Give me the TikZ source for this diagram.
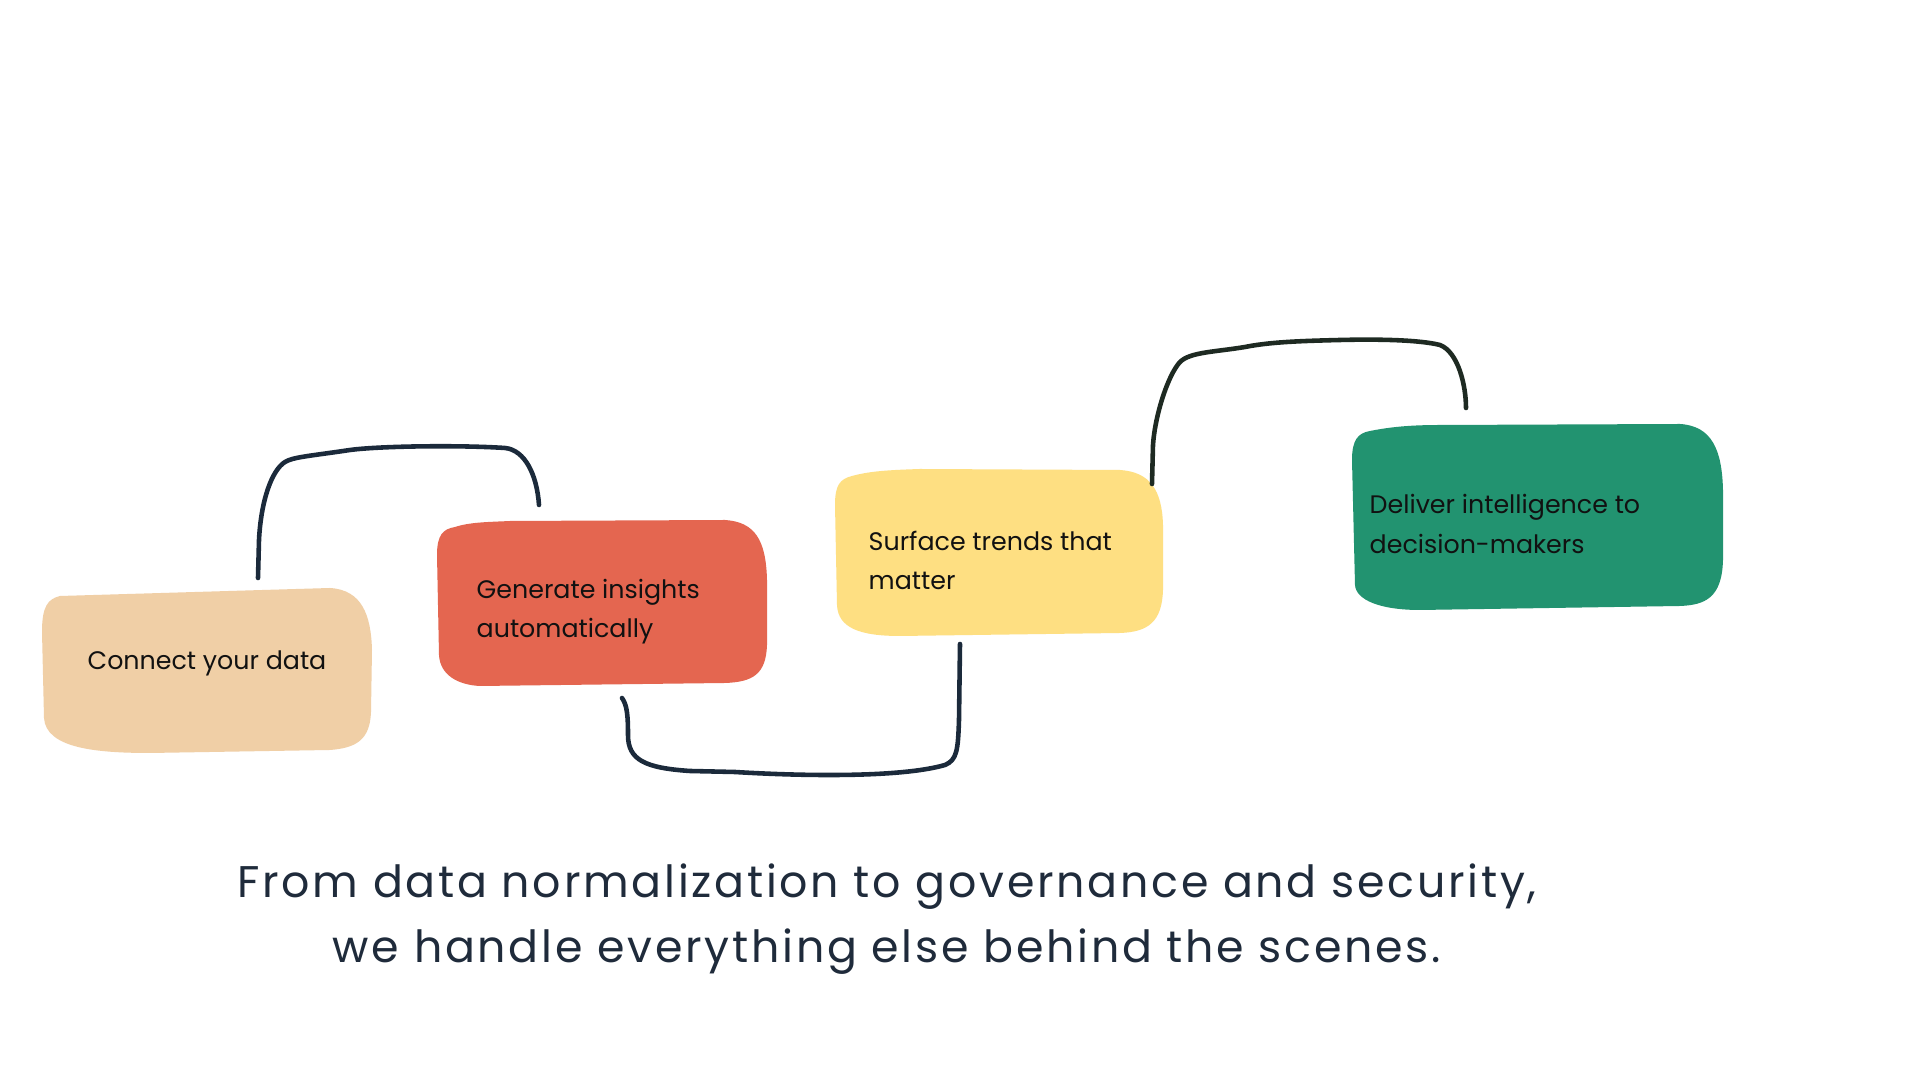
\documentclass[tikz,border=0pt]{standalone}
\usepackage{fontspec}
\setmainfont{Poppins}
\newfontfamily\capfont[LetterSpace=6.2]{Poppins}
\definecolor{tanc}{HTML}{F0CFA6}
\definecolor{redc}{HTML}{E46650}
\definecolor{yelc}{HTML}{FEDF82}
\definecolor{grnc}{HTML}{229370}
\definecolor{navy}{HTML}{1B2A3B}
\definecolor{dkgrn}{HTML}{1E2A22}
\definecolor{txt}{HTML}{111111}
\definecolor{captc}{HTML}{1F2B3B}
\begin{document}
\begin{tikzpicture}[x=0.01cm,y=-0.01cm,
  boxtext/.style={anchor=west,align=left,text=txt,font=\fontsize{7.2}{11.1}\selectfont,inner sep=0pt},
  link/.style={line width=1.3pt,line cap=round,line join=round,color=navy},
  caption/.style={align=center,text=captc,font=\capfont\fontsize{12.6}{18.5}\selectfont,inner sep=0pt}]
\useasboundingbox[fill=white] (0,0) rectangle (1920,1080);

% blobs
\fill[tanc] (60,596) -- (330,588) .. controls (362,590) and (371,615) .. (372,650)
  -- (371,712) .. controls (370,740) and (356,748) .. (330,750)
  -- (150,753) .. controls (95,753) and (46,748) .. (44,718)
  -- (42,632) .. controls (42,606) and (48,599) .. (60,596) -- cycle;
\fill[redc] (455,527) .. controls (470,522) and (490,522) .. (510,521)
  -- (725,520) .. controls (755,522) and (766,540) .. (767,580)
  -- (767,645) .. controls (766,675) and (752,682) .. (725,683)
  -- (480,686) .. controls (458,685) and (440,675) .. (439,655)
  -- (437,555) .. controls (437,535) and (443,529) .. (455,527) -- cycle;
\fill[yelc] (852,476) .. controls (870,471) and (890,470) .. (920,469)
  -- (1120,470) .. controls (1150,472) and (1162,490) .. (1163,525)
  -- (1163,590) .. controls (1162,622) and (1148,632) .. (1120,633)
  -- (900,636) .. controls (860,636) and (838,628) .. (837,605)
  -- (835,505) .. controls (835,485) and (840,479) .. (852,476) -- cycle;
\fill[grnc] (1370,431) .. controls (1390,427) and (1410,425) .. (1440,425)
  -- (1680,424) .. controls (1712,426) and (1722,450) .. (1723,490)
  -- (1723,560) .. controls (1722,598) and (1705,605) .. (1680,606)
  -- (1420,610) .. controls (1380,610) and (1356,600) .. (1355,585)
  -- (1352,460) .. controls (1352,440) and (1358,433) .. (1370,431) -- cycle;

% texts
\node[boxtext] (b1) at (87,663) {Connect your data};
\node[boxtext] (b2) at (476,612) {Generate insights\\automatically};
\node[boxtext] (b3) at (868,560) {Surface trends that\\matter};
\node[boxtext] (b4) at (1369,524) {Deliver intelligence to\\decision-makers};

% connector end points
\coordinate (c1s) at (258,578);
\coordinate (c1e) at (539,505);
\coordinate (c2s) at (622,698);
\coordinate (c2e) at (960,644);
\coordinate (c3s) at (1152,484);
\coordinate (c3e) at (1466,408);

\draw[link] (c1s) -- (259,540) .. controls (261,500) and (272,470) .. (285,462)
  .. controls (293,457) and (310,456) .. (350,450)
  .. controls (380,446) and (460,445) .. (505,448)
  .. controls (525,450) and (537,475) .. (c1e);
\draw[link] (c2s) .. controls (627,705) and (628,715) .. (628,735)
  .. controls (628,760) and (645,768) .. (690,771) -- (735,772)
  .. controls (800,776) and (900,778) .. (945,765)
  .. controls (957,760) and (958,750) .. (959,720) -- (c2e);
\draw[link,color=dkgrn] (c3s) -- (1153,445) .. controls (1155,415) and (1168,375) .. (1180,362)
  .. controls (1190,352) and (1215,352) .. (1245,347)
  .. controls (1270,342) and (1300,341) .. (1340,340)
  .. controls (1380,339) and (1420,340) .. (1440,345)
  .. controls (1458,352) and (1466,385) .. (c3e);

% caption
\node[caption] (cap) at (887,919) {From data normalization to governance and security,\\we handle everything else behind the scenes.};
\end{tikzpicture}
\end{document}
